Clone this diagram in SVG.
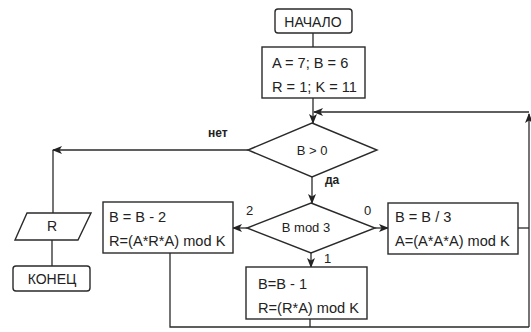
<svg xmlns="http://www.w3.org/2000/svg" width="531" height="332" viewBox="0 0 531 332">
  <style>
    .box { fill: #fff; stroke: #2a2a2a; stroke-width: 1.4; }
    .ln { fill: none; stroke: #2a2a2a; stroke-width: 1.3; }
    .t { font-family: "Liberation Sans", Arial, sans-serif; font-size: 14px; fill: #222; }
    .b { font-family: "Liberation Sans", Arial, sans-serif; font-size: 14.6px; fill: #222; }
    .s { font-family: "Liberation Sans", Arial, sans-serif; font-size: 13px; fill: #222; }
    .lbl { font-family: "Liberation Sans", Arial, sans-serif; font-size: 12px; font-weight: bold; fill: #222; }
  </style>
  <defs>
    <marker id="arr" viewBox="0 0 10 8" refX="9" refY="4" markerWidth="10" markerHeight="8" markerUnits="userSpaceOnUse" orient="auto">
      <path d="M0,0 L10,4 L0,8 L2.5,4 z" fill="#222"/>
    </marker>
  </defs>
  <rect width="531" height="332" fill="#fff"/>

  <g id="connectors">
    <path class="ln" d="M313,33 V47"/>
    <path class="ln" d="M313,98 V123" marker-end="url(#arr)"/>
    <path class="ln" d="M170,253 V327 H529"/>
    <path class="ln" d="M310,319 V327"/>
    <path class="ln" d="M518,228 H529"/>
    <path class="ln" d="M529,327 V114" marker-end="url(#arr)"/>
    <path class="ln" d="M529,112 H314" marker-end="url(#arr)"/>
    <path class="ln" d="M248,150 H53" marker-end="url(#arr)"/>
    <path class="ln" d="M53,150 V213"/>
    <path class="ln" d="M52,240 V266"/>
    <path class="ln" d="M312,177 V203" marker-end="url(#arr)"/>
    <path class="ln" d="M247,228 H233" marker-end="url(#arr)"/>
    <path class="ln" d="M375,228 H388" marker-end="url(#arr)"/>
    <path class="ln" d="M311,253 V267" marker-end="url(#arr)"/>
    <text class="lbl" x="208" y="137">нет</text>
    <text class="lbl" x="325" y="184">да</text>
    <text class="s" x="246" y="215">2</text>
    <text class="s" x="364" y="215">0</text>
    <text class="s" x="324" y="263">1</text>
  </g>

  <g id="start">
    <rect class="box" x="275" y="9" width="77" height="24" rx="3"/>
    <text class="t" x="313" y="27" text-anchor="middle">НАЧАЛО</text>
  </g>

  <g id="init">
    <rect class="box" x="262" y="47" width="103" height="51"/>
    <text class="b" x="272" y="68">A = 7; B = 6</text>
    <text class="b" x="272" y="92">R = 1; K = 11</text>
  </g>

  <g id="cond-b">
    <polygon class="box" points="312,123 377,150 312,177 248,150"/>
    <text class="s" x="312" y="155" text-anchor="middle">B &gt; 0</text>
  </g>

  <g id="cond-mod">
    <polygon class="box" points="311,203 375,228 311,253 247,228"/>
    <text class="s" x="306" y="232" text-anchor="middle">B mod 3</text>
  </g>

  <g id="case-2">
    <rect class="box" x="103" y="202" width="130" height="51"/>
    <text class="b" x="109" y="222">B = B - 2</text>
    <text class="b" x="109" y="246">R=(A*R*A) mod K</text>
  </g>

  <g id="case-0">
    <rect class="box" x="388" y="203" width="130" height="51"/>
    <text class="b" x="395" y="222">B = B / 3</text>
    <text class="b" x="395" y="246">A=(A*A*A) mod K</text>
  </g>

  <g id="case-1">
    <rect class="box" x="246" y="267" width="121" height="52"/>
    <text class="b" x="258" y="289">B=B - 1</text>
    <text class="b" x="258" y="313">R=(R*A) mod K</text>
  </g>

  <g id="output">
    <polygon class="box" points="27,213 91,213 78,240 15,240"/>
    <text class="t" x="52" y="231" text-anchor="middle">R</text>
  </g>

  <g id="end">
    <rect class="box" x="13" y="266" width="77" height="25" rx="3"/>
    <text class="t" x="52" y="284" text-anchor="middle">КОНЕЦ</text>
  </g>
</svg>
